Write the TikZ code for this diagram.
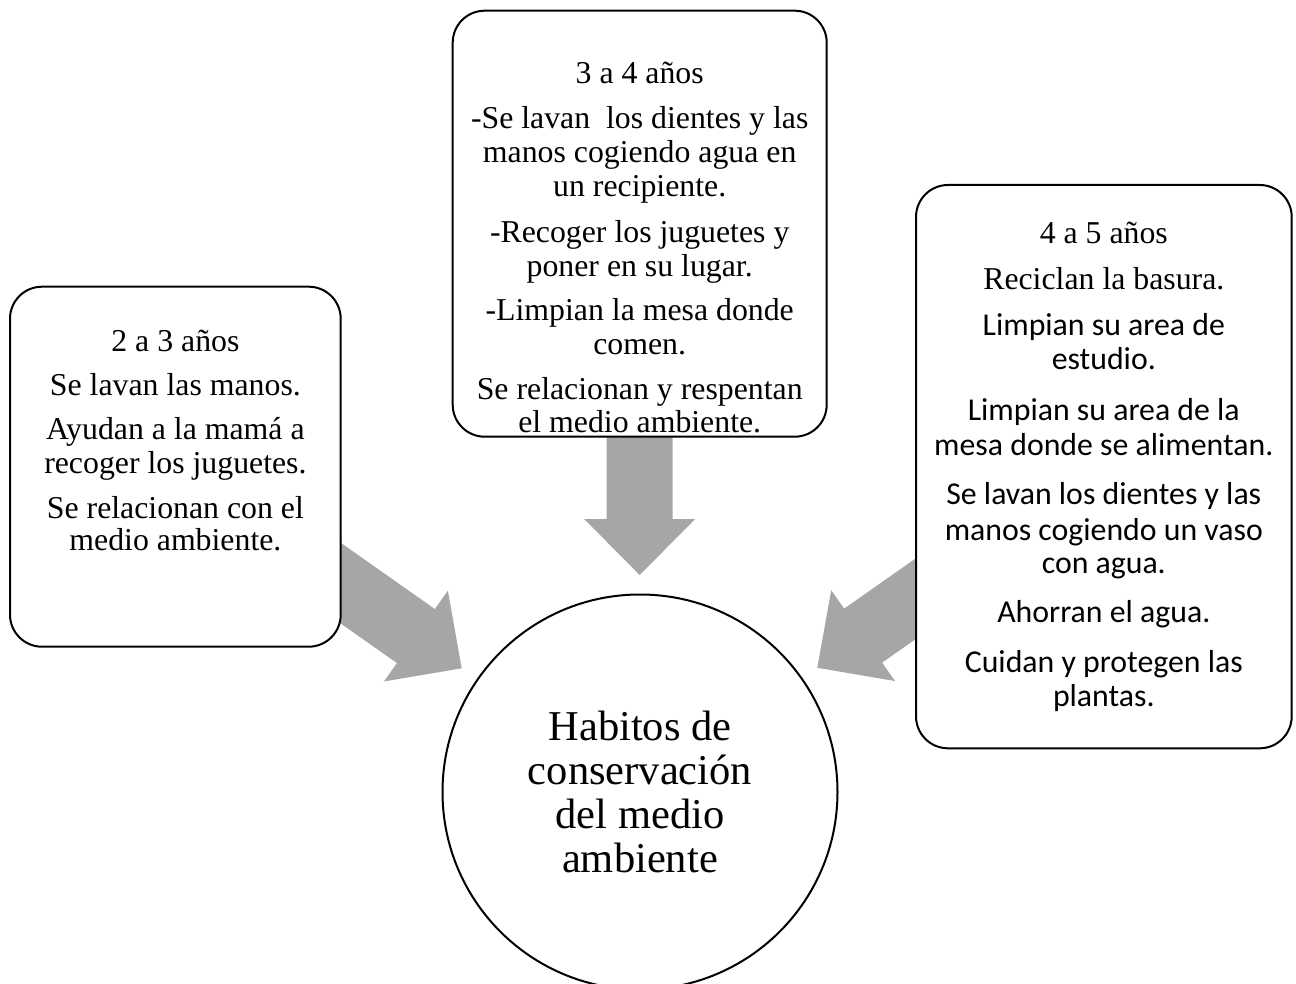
\documentclass[tikz,border=0pt]{standalone}
\usepackage{fontspec}
\setmainfont{Liberation Serif}
\newfontfamily\carl{Carlito}
\usetikzlibrary{calc}
\pgfdeclarelayer{bg}
\pgfsetlayers{bg,main}
\definecolor{arrowgray}{HTML}{A6A6A6}
\tikzset{
  card/.style={draw, line width=2pt, rounded corners=32pt, fill=white, inner sep=0pt},
  ln/.style={anchor=base, inner sep=0pt, font=\fontsize{31.8}{34}\selectfont},
  lns/.style={anchor=base, inner sep=0pt, font=\fontsize{31.8}{34}\selectfont\carl},
  hub/.style={circle, draw, line width=2pt, fill=white, minimum size=395pt, inner sep=0pt,
    align=center, font=\fontsize{42.5}{44.3}\selectfont},
  blockfill/.style={fill=arrowgray, draw=none}
}
% #1 = node the arrow leaves, #2 = coordinate of its tip
\newcommand\blockarr[2]{%
  \coordinate (h) at ($(#2)!56pt!(#1.center)$);
  \fill[blockfill] (#2)
    -- ($(h)!55.5pt!90:(#1.center)$)
    -- ($(h)!33pt!90:(#1.center)$)
    -- ($(#1.center)!33pt!-90:(h)$)
    -- ($(#1.center)!33pt!90:(h)$)
    -- ($(h)!33pt!-90:(#1.center)$)
    -- ($(h)!55.5pt!-90:(#1.center)$)
    -- cycle;}
\begin{document}
\begin{tikzpicture}[x=1pt,y=-1pt]
\useasboundingbox (0,0) rectangle (1296,984);
% boxes
\node[card, minimum width=330.7pt, minimum height=360pt] (lbox) at (175.35,466.7) {};
\node[card, minimum width=374pt, minimum height=426pt] (mbox) at (639.7,223.7) {};
\node[card, minimum width=375.7pt, minimum height=563.3pt] (rbox) at (1103.85,466.65) {};
% hub
\node[hub] (circ) at (640,792) {Habitos de\\conservación\\del medio\\ambiente};
% left box text
\foreach \y/\txt [count=\i] in {351.7/{2 a 3 años}, 395.5/{Se lavan las manos.},
  439.5/{Ayudan a la mamá a}, 473/{recoger los juguetes.},
  518/{Se relacionan con el}, 550.5/{medio ambiente.}}
  \node[ln] (lt\i) at (175.4,\y) {\txt};
% middle box text
\foreach \y/\txt [count=\i] in {84/{3 a 4 años}, 129/{-Se lavan\ \ los dientes y las},
  163/{manos cogiendo agua en}, 197/{un recipiente.},
  243/{-Recoger los juguetes y}, 277/{poner en su lugar.},
  321/{-Limpian la mesa donde}, 355/{comen.},
  399/{Se relacionan y respentan}, 432/{el medio ambiente.}}
  \node[ln] (mt\i) at (639.7,\y) {\txt};
% right box text
\foreach \y/\txt [count=\i] in {244/{4 a 5 años}, 290/{Reciclan la basura.}}
  \node[ln] (rt\i) at (1103.8,\y) {\txt};
\foreach \y/\txt [count=\i] in {336/{Limpian su area de}, 370/{estudio.},
  420/{Limpian su area de la}, 455/{mesa donde se alimentan.},
  504/{Se lavan los dientes y las}, 540/{manos cogiendo un vaso}, 573/{con agua.},
  622/{Ahorran el agua.},
  672/{Cuidan y protegen las}, 706/{plantas.}}
  \node[lns] (rs\i) at (1103.8,\y) {\txt};
% arrow tips
\coordinate (tipL) at (461.7,668.3);
\coordinate (tipM) at (639.7,575);
\coordinate (tipR) at (817.3,667.8);
\begin{pgfonlayer}{bg}
  \blockarr{lbox}{tipL}
  \blockarr{mbox}{tipM}
  \blockarr{rbox}{tipR}
\end{pgfonlayer}
\end{tikzpicture}
\end{document}
